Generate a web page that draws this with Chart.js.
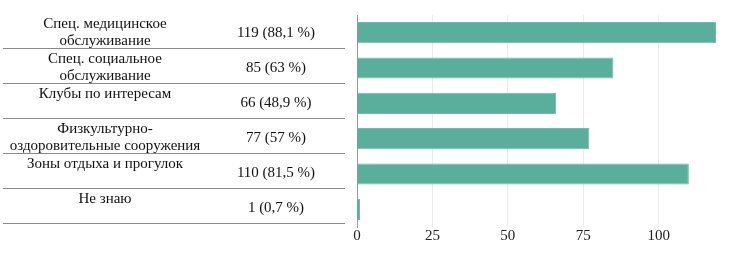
<!DOCTYPE html>
<html>
<head>
<meta charset="utf-8">
<script src="https://cdn.jsdelivr.net/npm/chart.js@4"></script>
<style>
  html, body { margin: 0; padding: 0; background: #fff; }
  #wrap { position: relative; width: 730px; height: 267px; }
  #c { position: absolute; left: 0; top: 0; }
  #tbl { position: absolute; left: 3px; top: 14px; width: 342px; border-collapse: separate; border-spacing: 0;
         font-family: "Liberation Serif", "DejaVu Serif", serif; font-size: 15px; color: #111; }
  #tbl td { box-sizing: border-box; height: 35px; padding: 0; border-bottom: 1px solid #8a8a8a;
            text-align: center; white-space: nowrap; line-height: 17px; }
  #tbl td div { position: relative; }
  #tbl td.lab { width: 204px; vertical-align: top; }
  #tbl td.lab div { top: 1px; }
  #tbl td.val { vertical-align: middle; }
  #tbl td.val div { top: 1px; }
</style>
</head>
<body>
<div id="wrap">
  <canvas id="c" width="730" height="267"></canvas>
  <table id="tbl"></table>
</div>
<script>
// data
var labelLines = [
  ['Спец. медицинское', 'обслуживание'],
  ['Спец. социальное', 'обслуживание'],
  ['Клубы по интересам'],
  ['Физкультурно-', 'оздоровительные сооружения'],
  ['Зоны отдыха и прогулок'],
  ['Не знаю']
];
var counts = [119, 85, 66, 77, 110, 1];
var percents = ['88,1', '63', '48,9', '57', '81,5', '0,7'];
var xTicks = [0, 25, 50, 75, 100];

// table on the left
var html = '';
for (var i = 0; i < labelLines.length; i++) {
  html += '<tr><td class="lab"><div>' + labelLines[i].join('<br>') + '</div></td>' +
          '<td class="val"><div>' + counts[i] + ' (' + percents[i] + ' %)</div></td></tr>';
}
document.getElementById('tbl').innerHTML = html;

var ctx = document.getElementById('c').getContext('2d');
var chart = new Chart(ctx, {
  type: 'bar',
  data: {
    labels: labelLines.map(function(l) { return l.join(' '); }),
    datasets: [{
      data: counts,
      backgroundColor: '#5aae9c',
      borderColor: '#6fbcaa',
      borderWidth: 1,
      categoryPercentage: 1,
      barPercentage: 0.6
    }]
  },
  options: {
    indexAxis: 'y',
    responsive: false,
    animation: false,
    layout: { padding: { left: 349, right: 14, top: 15, bottom: 22 } },
    plugins: { legend: { display: false }, tooltip: { enabled: false } },
    scales: {
      x: {
        min: 0,
        max: 119,
        afterBuildTicks: function(axis) {
          axis.ticks = xTicks.map(function(v) { return { value: v }; });
        },
        grid: { color: '#ececec', drawTicks: false },
        border: { display: false },
        ticks: {
          color: '#222',
          padding: 0,
          font: { family: '"Liberation Serif", serif', size: 15 }
        }
      },
      y: {
        ticks: { display: false },
        grid: { display: false },
        border: { display: true, color: '#999', width: 1 }
      }
    }
  }
});
</script>
</body>
</html>
